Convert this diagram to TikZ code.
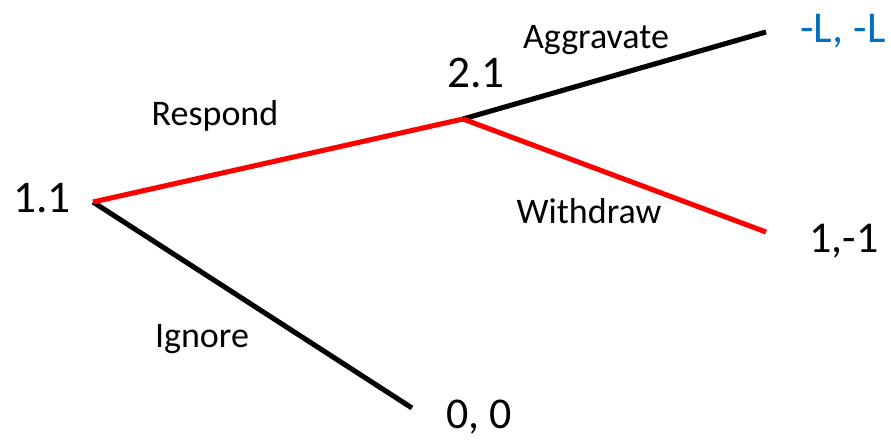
\documentclass[tikz,border=0pt]{standalone}
\usepackage{fontspec}
\setmainfont{Carlito}
\usetikzlibrary{positioning}
\definecolor{payblue}{RGB}{0,112,192}

\begin{document}
\begin{tikzpicture}[
    x=0.75pt, y=-0.75pt,
    player/.style={inner sep=0pt, anchor=base, font=\fontsize{34}{40}\selectfont},
    payoff/.style={inner sep=0pt, anchor=base, font=\fontsize{33}{40}\selectfont},
    move/.style={inner sep=0pt, anchor=base, font=\fontsize{27}{32}\selectfont},
    branch/.style={line width=3.8pt},
    best/.style={branch, red}
]
    \useasboundingbox (0,0) rectangle (891,439);

    % decision nodes and terminal points
    \coordinate (n11) at (93,202);
    \coordinate (n21) at (463,119);
    \coordinate (agg) at (766,32);
    \coordinate (wdr) at (766,232);
    \coordinate (ign) at (412,408);

    \node[player] (p11) at (42,212) {1.1};
    \node[player] (p21) at (476,87) {2.1};
    \node[payoff, text=payblue] (payagg) at (843,42) {-L, -L};
    \node[payoff] (paywdr) at (844,252) {1,-1};
    \node[payoff] (payign) at (479,428) {0, 0};

    \node[move] (respond) at (215,125) {Respond};
    \node[move] (aggravate) at (596,48) {Aggravate};
    \node[move] (withdraw) at (589,223) {Withdraw};
    \node[move] (ignore) at (202,347) {Ignore};

    % branches
    \draw[branch] (n21) -- (agg);
    \draw[branch] (n11) -- (ign);
    \draw[best] (n11) -- (n21);
    \draw[best] (n21) -- (wdr);
\end{tikzpicture}
\end{document}
